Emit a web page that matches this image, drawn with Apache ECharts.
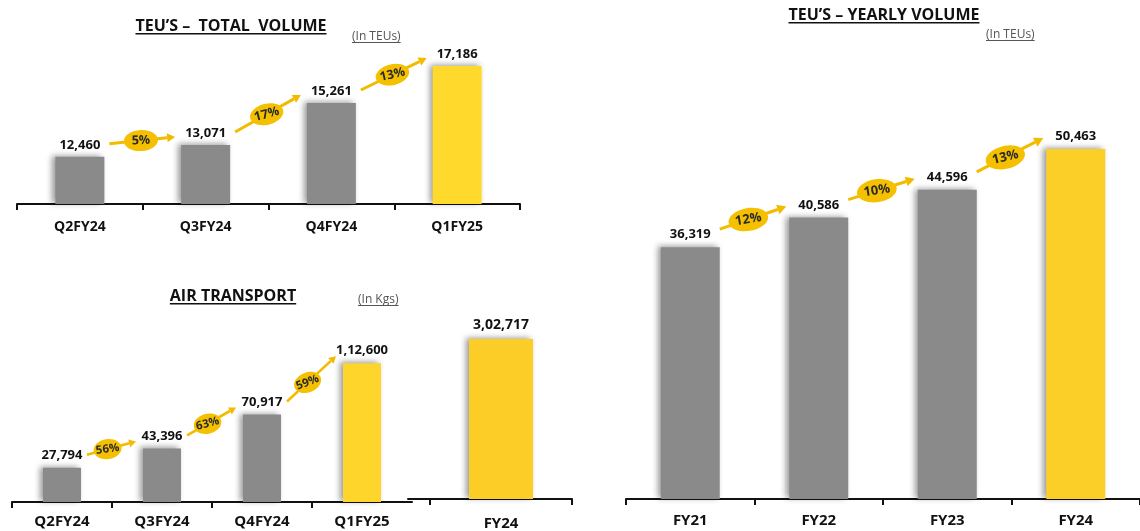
<!DOCTYPE html>
<html>
<head>
<meta charset="utf-8">
<script src="https://cdn.jsdelivr.net/npm/echarts@6/dist/echarts.min.js"></script>
<style>
  html, body { margin: 0; padding: 0; background: #ffffff; }
  #chart { width: 1140px; height: 531px; }
</style>
</head>
<body>
<div id="chart"></div>
<script>
// Quarterly TEU volume
const teuQuarters = ['Q2FY24', 'Q3FY24', 'Q4FY24', 'Q1FY25'];
const teuQuarterValues = [12460, 13071, 15261, 17186];
const teuQuarterGrowth = ['5%', '17%', '13%'];

// Yearly TEU volume
const teuYears = ['FY21', 'FY22', 'FY23', 'FY24'];
const teuYearValues = [36319, 40586, 44596, 50463];
const teuYearGrowth = ['12%', '10%', '13%'];

// Air transport, in kg
const airQuarters = ['Q2FY24', 'Q3FY24', 'Q4FY24', 'Q1FY25'];
const airQuarterValues = [27794, 43396, 70917, 112600];
const airQuarterGrowth = ['56%', '63%', '59%'];
const airYears = ['FY24'];
const airYearValues = [302717];

const GREY = '#8a8a8a';
const YELLOW_BRIGHT = '#ffda2c';
const ARROW = '#f2bb00';
const BUBBLE = '#f4c000';
const INK = '#111111';
const FONT = '"Open Sans", "Noto Sans", sans-serif';

// Indian digit grouping: 3,02,717
function indianFormat(n) {
  const s = String(Math.round(n));
  if (s.length <= 3) return s;
  const last3 = s.slice(-3);
  const rest = s.slice(0, -3).replace(/\B(?=(\d{2})+(?!\d))/g, ',');
  return rest + ',' + last3;
}

const barShadow = {
  shadowBlur: 6,
  shadowColor: 'rgba(0,0,0,0.40)',
  shadowOffsetX: -3,
  shadowOffsetY: -1
};

function valueLabel(size, distance) {
  return {
    show: true,
    position: 'top',
    distance: distance,
    color: INK,
    fontFamily: FONT,
    fontWeight: 'bold',
    fontSize: size,
    formatter: p => indianFormat(Array.isArray(p.value) ? p.value[1] : p.value)
  };
}

const axisLineStyle = { show: true, lineStyle: { color: INK, width: 2 } };
function tickStyle(extra) {
  return Object.assign({ show: true, length: 6, lineStyle: { color: INK, width: 2 } }, extra || {});
}
function catLabel(margin, size, extra) {
  return Object.assign({
    color: INK, fontFamily: FONT, fontWeight: 'bold', fontSize: size, margin: margin
  }, extra || {});
}

// Growth arrow between the tops of consecutive bars, with a tilted bubble
function growthArrows(labels, cfg) {
  return function (params, api) {
    const i = api.value(0);
    const a = api.coord([i, api.value(1)]);
    const b = api.coord([i + 1, api.value(2)]);
    const hw = cfg.barWidth / 2;
    const x0 = a[0] + hw + cfg.dx0, y0 = a[1] + cfg.dy0;
    const x1 = b[0] - hw + cfg.dx1, y1 = b[1] + cfg.dy1;
    const ang = Math.atan2(y0 - y1, x1 - x0);
    const ux = Math.cos(ang), uy = -Math.sin(ang);
    const bx = x1 - ux * cfg.head, by = y1 - uy * cfg.head;
    const px = -uy, py = ux;
    const hh = cfg.headW / 2;
    const ex = x0 + (x1 - x0) * cfg.t, ey = y0 + (y1 - y0) * cfg.t;
    const tilt = ang * 0.5;
    return {
      type: 'group',
      children: [
        { type: 'line', shape: { x1: x0, y1: y0, x2: bx, y2: by },
          style: { stroke: ARROW, lineWidth: cfg.lw } },
        { type: 'polygon',
          shape: { points: [[x1, y1], [bx + px * hh, by + py * hh], [bx - px * hh, by - py * hh]] },
          style: { fill: ARROW } },
        { type: 'ellipse', x: ex, y: ey, rotation: tilt,
          shape: { cx: 0, cy: 0, rx: cfg.rx, ry: cfg.ry },
          style: { fill: BUBBLE } },
        { type: 'text', x: ex, y: ey, rotation: tilt,
          style: { text: labels[params.dataIndex], font: 'bold ' + cfg.fontSize + 'px ' + FONT,
                   fill: '#2a2a2a', textAlign: 'center', textVerticalAlign: 'middle' } }
      ]
    };
  };
}

function pairs(values) {
  const out = [];
  for (let i = 0; i < values.length - 1; i++) out.push([i, values[i], values[i + 1]]);
  return out;
}

// Underlined headings
const measureCtx = document.createElement('canvas').getContext('2d');
function heading(text, x, y, align, font, color, gap, thick) {
  measureCtx.font = font;
  const w = measureCtx.measureText(text).width;
  const left = align === 'center' ? x - w / 2 : x;
  return [
    { type: 'text', x: left, y: y,
      style: { text: text, font: font, fill: color, textAlign: 'left', textVerticalAlign: 'middle' } },
    { type: 'rect', shape: { x: left, y: y + gap, width: w, height: thick }, style: { fill: color } }
  ];
}

const titleFont = 'bold 16px ' + FONT;
const unitFont = '12px ' + FONT;

const chart = echarts.init(document.getElementById('chart'), null, { renderer: 'canvas' });

const BW_TEUQ = 49, BW_AIRQ = 38, BW_AIRY = 64, BW_TEUY = 59;

chart.setOption({
  animation: false,
  backgroundColor: '#ffffff',
  grid: [
    { left: 17, top: 12, width: 503, height: 192 },
    { left: 12, top: 317, width: 400, height: 185 },
    { left: 408, top: 314, width: 164, height: 188 },
    { left: 626, top: 83, width: 525, height: 416 }
  ],
  xAxis: [
    { type: 'category', gridIndex: 0, data: teuQuarters,
      axisLine: axisLineStyle, axisTick: tickStyle(), axisLabel: catLabel(16, 14) },
    { type: 'value', gridIndex: 1, min: -0.5, max: 3.5, splitLine: { show: false },
      axisLine: axisLineStyle,
      axisTick: tickStyle({ customValues: [-0.5, 0.5, 1.5, 2.5] }),
      axisLabel: catLabel(12, 15, { customValues: [0, 1, 2, 3], formatter: v => airQuarters[Math.round(v)] }) },
    { type: 'value', gridIndex: 2, min: -0.655, max: 0.5, splitLine: { show: false },
      axisLine: axisLineStyle,
      axisTick: tickStyle({ customValues: [-0.5, 0.5] }),
      axisLabel: catLabel(17, 15, { customValues: [0], formatter: v => airYears[Math.round(v)] }) },
    { type: 'category', gridIndex: 3, data: teuYears,
      axisLine: axisLineStyle, axisTick: tickStyle(), axisLabel: catLabel(14, 15) }
  ],
  yAxis: [
    { type: 'value', gridIndex: 0, min: 10000, max: 20000, show: false },
    { type: 'value', gridIndex: 1, min: 0, max: 150000, show: false },
    { type: 'value', gridIndex: 2, min: 0, max: 350000, show: false },
    { type: 'value', gridIndex: 3, min: 0, max: 60000, show: false }
  ],
  series: [
    { type: 'bar', xAxisIndex: 0, yAxisIndex: 0, barWidth: BW_TEUQ,
      data: teuQuarterValues.map((v, i) => ({
        value: v,
        itemStyle: Object.assign({ color: i === teuQuarterValues.length - 1 ? YELLOW_BRIGHT : GREY }, barShadow)
      })),
      label: valueLabel(13, 5) },
    { type: 'bar', xAxisIndex: 1, yAxisIndex: 1, barWidth: BW_AIRQ,
      data: airQuarterValues.map((v, i) => ({
        value: [i, v],
        itemStyle: Object.assign({ color: i === airQuarterValues.length - 1 ? '#fdd52b' : GREY }, barShadow)
      })),
      label: valueLabel(13, 6) },
    { type: 'bar', xAxisIndex: 2, yAxisIndex: 2, barWidth: BW_AIRY,
      data: airYearValues.map((v, i) => ({
        value: [i, v],
        itemStyle: Object.assign({ color: '#fccd27' }, barShadow)
      })),
      label: valueLabel(14, 7) },
    { type: 'bar', xAxisIndex: 3, yAxisIndex: 3, barWidth: BW_TEUY,
      data: teuYearValues.map((v, i) => ({
        value: v,
        itemStyle: Object.assign({ color: i === teuYearValues.length - 1 ? '#fccf28' : GREY }, barShadow)
      })),
      label: valueLabel(13, 6) },

    { type: 'custom', xAxisIndex: 0, yAxisIndex: 0, encode: { x: 0, y: 1 }, z: 5,
      data: pairs(teuQuarterValues),
      renderItem: growthArrows(teuQuarterGrowth, {
        barWidth: BW_TEUQ, dx0: 5, dy0: -13, dx1: -6, dy1: -8,
        head: 8, headW: 9, lw: 3, t: 0.48, rx: 17, ry: 10.5, fontSize: 12.5 }) },
    { type: 'custom', xAxisIndex: 1, yAxisIndex: 1, encode: { x: 0, y: 1 }, z: 5,
      data: pairs(airQuarterValues),
      renderItem: growthArrows(airQuarterGrowth, {
        barWidth: BW_AIRQ, dx0: 6, dy0: -13, dx1: -7, dy1: -7,
        head: 7, headW: 8, lw: 2.6, t: 0.42, rx: 14, ry: 10, fontSize: 11.5 }) },
    { type: 'custom', xAxisIndex: 3, yAxisIndex: 3, encode: { x: 0, y: 1 }, z: 5,
      data: pairs(teuYearValues),
      renderItem: growthArrows(teuYearGrowth, {
        barWidth: BW_TEUY, dx0: 0, dy0: -18, dx1: -3, dy1: -11,
        head: 9, headW: 10, lw: 3, t: 0.43, rx: 20, ry: 11.5, fontSize: 13 }) }
  ],
  graphic: [].concat(
    heading('TEU\u2019S \u2013  TOTAL  VOLUME', 231, 26, 'center', titleFont, INK, 7, 1.5),
    heading('(In TEUs)', 352, 37, 'left', unitFont, '#555555', 5, 1),
    heading('AIR TRANSPORT', 233, 296, 'center', titleFont, INK, 7, 1.5),
    heading('(In Kgs)', 358, 300, 'left', unitFont, '#555555', 5, 1),
    heading('TEU\u2019S \u2013 YEARLY VOLUME', 884, 15, 'center', titleFont, INK, 7, 1.5),
    heading('(In TEUs)', 986, 35, 'left', unitFont, '#555555', 5, 1)
  )
});
</script>
</body>
</html>
